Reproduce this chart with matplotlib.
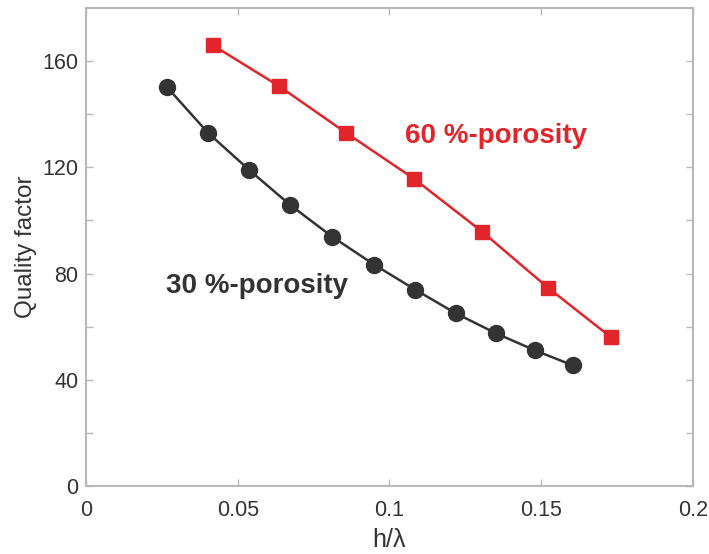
import matplotlib.pyplot as plt
import numpy as np

plt.rcParams['font.family'] = ['Liberation Sans', 'DejaVu Sans']

# 30 %-porosity
x30 = [0.0267, 0.0402, 0.0537, 0.0672, 0.0811, 0.0949, 0.1084, 0.1219, 0.1351, 0.1479, 0.1605]
q30 = [150.2, 133.0, 119.1, 105.9, 93.9, 83.4, 74.0, 65.0, 57.5, 51.1, 45.4]

# 60 %-porosity
x60 = [0.0418, 0.0636, 0.0857, 0.1081, 0.1305, 0.1522, 0.1730]
q60 = [166.0, 150.6, 133.0, 115.7, 95.8, 74.7, 56.0]

xticks = [0, 0.05, 0.1, 0.15, 0.2]
xticklabels = ['0', '0.05', '0.1', '0.15', '0.2']
yticks = [0, 40, 80, 120, 160]

red = '#e2252b'
dark = '#333333'
spine = '#b8b8b8'

fig = plt.figure(figsize=(7.09, 5.54), dpi=100)
ax = fig.add_axes([0.1213, 0.1227, 0.8561, 0.8628])

ax.plot(x30, q30, '-o', color=dark, lw=1.8, ms=11.5)
ax.plot(x60, q60, '-s', color=red, lw=1.8, ms=9.5)

ax.text(0.0262, 72.7, '30 %-porosity', color=dark, fontsize=20, fontweight='bold',
        ha='left', va='baseline')
ax.text(0.1050, 129.1, '60 %-porosity', color=red, fontsize=20, fontweight='bold',
        ha='left', va='baseline')

ax.set_xlim(0, 0.2)
ax.set_ylim(0, 180)
ax.set_xticks(xticks)
ax.set_xticklabels(xticklabels)
ax.set_yticks(yticks)
ax.set_yticks(np.arange(20, 180, 40), minor=True)
ax.tick_params(which='both', direction='in', top=True, right=True, color=spine,
               labelsize=15.5, labelcolor='#333333', length=5, width=1)
ax.tick_params(axis='x', which='both', pad=10)
ax.tick_params(axis='y', which='both', pad=5.5)
for s in ax.spines.values():
    s.set_color(spine)
    s.set_linewidth(1.5)

ax.set_xlabel('h/λ', fontsize=18, color='#333333', labelpad=5)
ax.set_ylabel('Quality factor', fontsize=17.5, color='#333333', labelpad=4)

fig.savefig('out.png', dpi=100)
